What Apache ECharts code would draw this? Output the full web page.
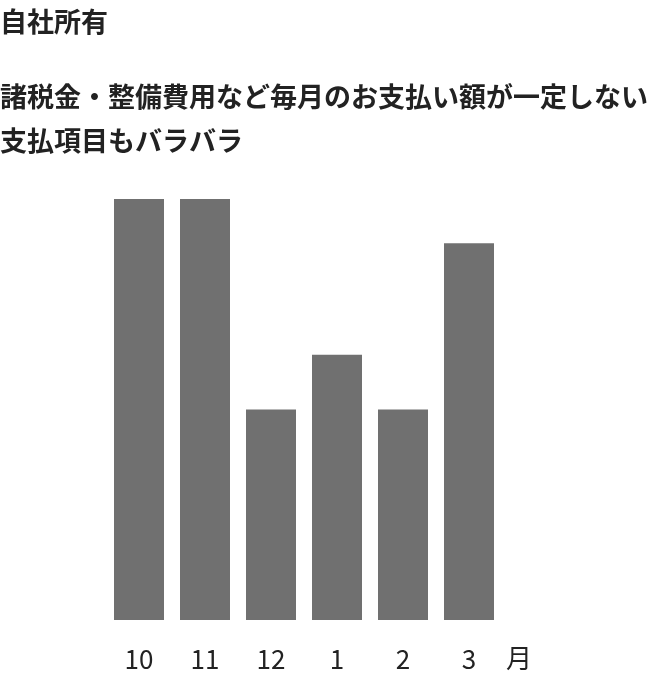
<!DOCTYPE html>
<html><head><meta charset="utf-8">
<script src="https://cdn.jsdelivr.net/npm/echarts@6/dist/echarts.min.js"></script>
<style>html,body{margin:0;padding:0;background:#fff}#c{width:656px;height:700px}</style>
</head><body><div id="c"></div>
<script>
var categories = ['10', '11', '12', '1', '2', '3'];
var values = [100, 100, 50, 63, 50, 89.5];
var titleText = '自社所有';
var subText = '諸税金・整備費用など毎月のお支払い額が一定しない\n支払項目もバラバラ';
var unitText = '月';
var FONT = '"Noto Sans CJK JP", "Noto Sans", sans-serif';
var chart = echarts.init(document.getElementById('c'), null, {renderer: 'canvas'});
chart.setOption({
  animation: false,
  title: [
    {text: titleText, left: 0, top: 6, padding: 0, textStyle: {fontFamily: FONT, fontSize: 27, fontWeight: 'bold', color: '#222', lineHeight: 32}},
    {text: subText, left: 0, top: 75, padding: 0, textStyle: {fontFamily: FONT, fontSize: 27, fontWeight: 'bold', color: '#222', lineHeight: 44}}
  ],
  grid: {left: 106, width: 396, top: 199, bottom: 80, containLabel: false},
  xAxis: {
    type: 'category', data: categories,
    axisLine: {show: false}, axisTick: {show: false},
    axisLabel: {fontFamily: FONT, fontSize: 26, color: '#222', margin: 26}
  },
  yAxis: {type: 'value', min: 0, max: 100, show: false, splitLine: {show: false}},
  graphic: [{type: 'text', left: 506, top: 645, style: {text: unitText, font: '400 26px ' + FONT, fill: '#222'}}],
  series: [{type: 'bar', data: values, barWidth: 50, itemStyle: {color: '#707070'}}]
});
</script></body></html>
